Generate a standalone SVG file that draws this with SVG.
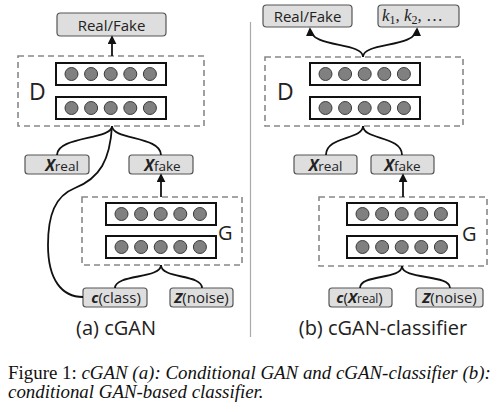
<svg xmlns="http://www.w3.org/2000/svg" xmlns:xlink="http://www.w3.org/1999/xlink" width="500" height="412" viewBox="0 0 500 412">
<style>
.box{fill:#dedede;stroke:#555;stroke-width:1.2}
.dash{fill:none;stroke:#888;stroke-width:1.6;stroke-dasharray:6 4}
.layer{fill:#fff;stroke:#111;stroke-width:2}
.nr{fill:#808080;stroke:#3c3c3c;stroke-width:1}
.conn{fill:none;stroke:#111;stroke-width:1.8}
.t{font-family:"Open Sans","Liberation Sans",sans-serif;fill:#222}
.bi{font-weight:bold;font-style:italic}
.cap{font-family:"Liberation Serif","Times New Roman",serif;font-size:18.9px;fill:#111}
</style>
<defs>
<marker id="ah" viewBox="0 0 10 10" refX="8" refY="5" markerWidth="5" markerHeight="5" orient="auto">
<path d="M0,0 L10,5 L0,10 z" fill="#111"/>
</marker>
<g id="layer">
<rect class="layer" x="0" y="0" width="110" height="22"/>
<circle class="nr" cx="15.5" cy="11" r="6.5"/>
<circle class="nr" cx="35.1" cy="11" r="6.5"/>
<circle class="nr" cx="54.7" cy="11" r="6.5"/>
<circle class="nr" cx="74.3" cy="11" r="6.5"/>
<circle class="nr" cx="93.9" cy="11" r="6.5"/>
</g>
</defs>

<line x1="250.5" y1="22" x2="250.5" y2="337" stroke="#aaa" stroke-width="1.2"/>

<!-- Left panel (a) -->
<g id="a_realfake">
<rect class="box" x="57" y="13" width="109" height="23" rx="3.5"/>
<text class="t" x="111.5" y="30.5" font-size="15" text-anchor="middle">Real/Fake</text>
</g>
<g id="a_D">
<rect class="dash" x="18" y="56" width="186" height="70"/>
<use xlink:href="#layer" x="56" y="63"/>
<use xlink:href="#layer" x="56" y="97"/>
<text class="t" x="29" y="100" font-size="23">D</text>
</g>
<g id="a_xreal">
<rect class="box" x="25" y="155" width="64" height="19" rx="3"/>
<text class="t" x="62" y="171" text-anchor="middle"><tspan class="bi" font-size="16">X</tspan><tspan font-size="13.5">real</tspan></text>
</g>
<g id="a_xfake">
<rect class="box" x="129" y="155" width="64" height="19" rx="3"/>
<text class="t" x="162.5" y="171" text-anchor="middle"><tspan class="bi" font-size="16">X</tspan><tspan font-size="13.5">fake</tspan></text>
</g>
<g id="a_G">
<rect class="dash" x="82" y="197" width="160" height="68"/>
<use xlink:href="#layer" x="106" y="203"/>
<use xlink:href="#layer" x="106" y="236"/>
<text class="t" x="218" y="240" font-size="20">G</text>
</g>
<g id="a_c">
<rect class="box" x="83" y="288" width="64" height="19" rx="3"/>
<text class="t" x="116" y="303" text-anchor="middle" font-size="15"><tspan class="bi">c</tspan>(class)</text>
</g>
<g id="a_z">
<rect class="box" x="170" y="288" width="63" height="19" rx="3"/>
<text class="t" x="201.5" y="303" text-anchor="middle" font-size="15"><tspan class="bi">Z</tspan>(noise)</text>
</g>
<text class="t" x="116" y="335" font-size="20" text-anchor="middle">(a) cGAN</text>

<!-- Right panel (b) -->
<g id="b_realfake">
<rect class="box" x="263" y="5" width="89" height="22" rx="3.5"/>
<text class="t" x="307.5" y="21.5" font-size="15" text-anchor="middle">Real/Fake</text>
</g>
<g id="b_k">
<rect class="box" x="378" y="5" width="81" height="22" rx="3.5"/>
<text x="382" y="21" font-family="'Liberation Serif','Times New Roman',serif" font-size="17" fill="#222"><tspan font-style="italic">k</tspan><tspan font-size="12" dy="3">1</tspan><tspan dy="-3">, </tspan><tspan font-style="italic">k</tspan><tspan font-size="12" dy="3">2</tspan><tspan dy="-3">, …</tspan></text>
</g>
<g id="b_D">
<rect class="dash" x="265" y="57" width="198" height="69"/>
<use xlink:href="#layer" x="310" y="63"/>
<use xlink:href="#layer" x="310" y="97"/>
<text class="t" x="277" y="100" font-size="23">D</text>
</g>
<g id="b_xreal">
<rect class="box" x="294" y="155" width="63" height="19" rx="3"/>
<text class="t" x="325.5" y="171" text-anchor="middle"><tspan class="bi" font-size="16">X</tspan><tspan font-size="13.5">real</tspan></text>
</g>
<g id="b_xfake">
<rect class="box" x="371" y="155" width="63" height="19" rx="3"/>
<text class="t" x="402.5" y="171" text-anchor="middle"><tspan class="bi" font-size="16">X</tspan><tspan font-size="13.5">fake</tspan></text>
</g>
<g id="b_G">
<rect class="dash" x="319" y="197" width="168" height="69"/>
<use xlink:href="#layer" x="347" y="203"/>
<use xlink:href="#layer" x="347" y="236"/>
<text class="t" x="462" y="241" font-size="20">G</text>
</g>
<g id="b_c">
<rect class="box" x="329" y="288" width="63" height="19" rx="3"/>
<text class="t" x="359.5" y="303" text-anchor="middle" font-size="15"><tspan class="bi">c</tspan>(<tspan class="bi">X</tspan><tspan font-size="12">real</tspan>)</text>
</g>
<g id="b_z">
<rect class="box" x="416" y="288" width="67" height="19" rx="3"/>
<text class="t" x="449.5" y="303" text-anchor="middle" font-size="15"><tspan class="bi">Z</tspan>(noise)</text>
</g>
<text class="t" x="383" y="335" font-size="20" text-anchor="middle">(b) cGAN-classifier</text>

<!-- connectors -->
<g id="connectors">
<path class="conn" d="M112,56 L112,37" marker-end="url(#ah)"/>
<path class="conn" d="M112,126 C112,140 57,136 57,155"/>
<path class="conn" d="M112,126 C112,140 161,136 161,155"/>
<path class="conn" d="M112,126 C110,160 100,178 75,188 C55,196 48,215 48,245 C48,280 62,297 83,297"/>
<path class="conn" d="M161,197 L161,175" marker-end="url(#ah)"/>
<path class="conn" d="M161,265 C161,279 115,274 115,288"/>
<path class="conn" d="M161,265 C161,279 202,274 202,288"/>

<path class="conn" d="M363,57 C363,42 311,48 310,29" marker-end="url(#ah)"/>
<path class="conn" d="M363,57 C363,42 416,48 417,29" marker-end="url(#ah)"/>
<path class="conn" d="M363,126 C363,140 326,136 326,155"/>
<path class="conn" d="M363,126 C363,140 402,136 402,155"/>
<path class="conn" d="M403,197 L403,175" marker-end="url(#ah)"/>
<path class="conn" d="M402,266 C402,280 360,274 360,288"/>
<path class="conn" d="M402,266 C402,280 450,274 450,288"/>
</g>

<!-- caption -->
<text class="cap" x="8" y="379">Figure 1: <tspan font-style="italic">cGAN (a): Conditional GAN and cGAN-classifier (b):</tspan></text>
<text class="cap" x="8" y="398" font-style="italic">conditional GAN-based classifier.</text>
</svg>
